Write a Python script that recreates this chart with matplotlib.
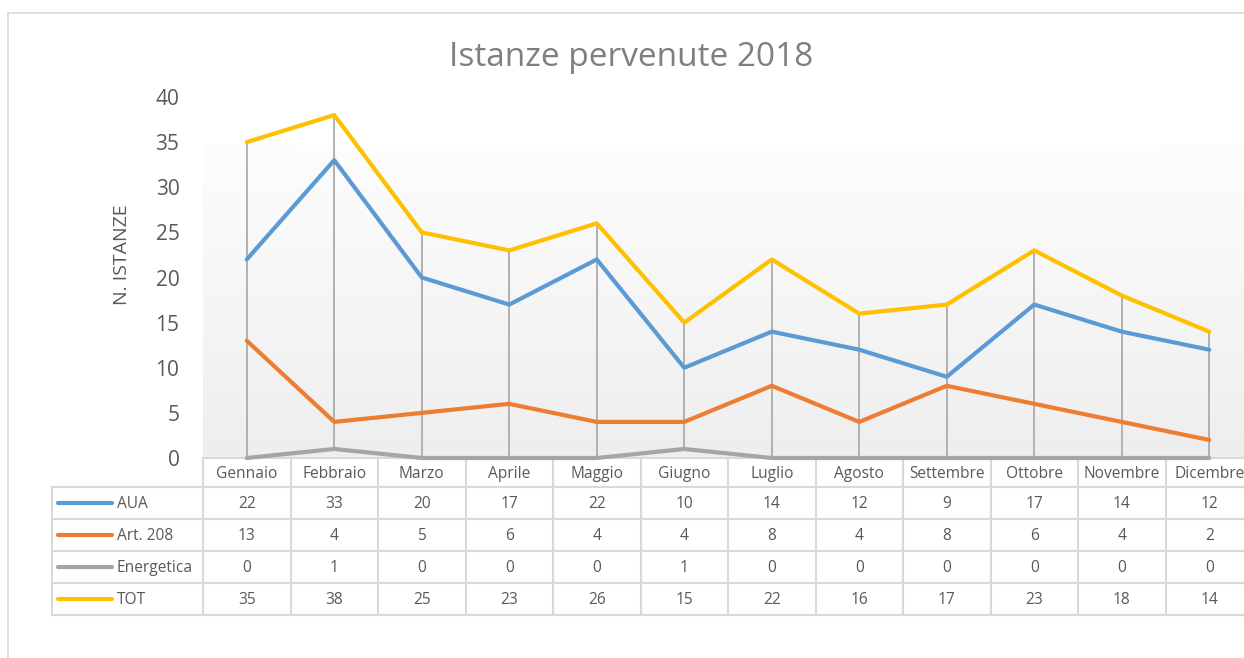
import matplotlib
matplotlib.use("Agg")
import matplotlib.pyplot as plt
import numpy as np
from matplotlib.transforms import blended_transform_factory
from matplotlib.lines import Line2D
from matplotlib.colors import LinearSegmentedColormap

months = ["Gennaio", "Febbraio", "Marzo", "Aprile", "Maggio", "Giugno",
          "Luglio", "Agosto", "Settembre", "Ottobre", "Novembre", "Dicembre"]
aua = [22, 33, 20, 17, 22, 10, 14, 12, 9, 17, 14, 12]
art208 = [13, 4, 5, 6, 4, 4, 8, 4, 8, 6, 4, 2]
energetica = [0, 1, 0, 0, 0, 1, 0, 0, 0, 0, 0, 0]
tot = [35, 38, 25, 23, 26, 15, 22, 16, 17, 23, 18, 14]
series_names = ["AUA", "Art. 208", "Energetica", "TOT"]
series_values = [aua, art208, energetica, tot]
colors = ["#5B9BD5", "#ED7D31", "#A5A5A5", "#FFC000"]
yticks = [0, 5, 10, 15, 20, 25, 30, 35, 40]

plt.rcParams['font.family'] = ['Open Sans', 'DejaVu Sans']
TXT = "#595959"
GRID = "#D9D9D9"

W, H = 1244, 658
fig = plt.figure(figsize=(W / 100, H / 100), dpi=100)


def fx(px):
    return px / W


def fy(py):
    return 1 - py / H


ax_left, col_w = 203, 87.5
ax_right = ax_left + 12 * col_w
ax_top, ax_bot = 97, 458
ax = fig.add_axes([fx(ax_left), fy(ax_bot), (ax_right - ax_left) / W, (ax_bot - ax_top) / H])
ax.set_xlim(-0.5, 11.5)
ax.set_ylim(0, 40)

# gradient background of plot area
grad_top = (ax_bot - 145) / (ax_bot - ax_top) * 40
cmap = LinearSegmentedColormap.from_list("g", ["#EEEEEE", "#FDFDFD"])
grad = np.linspace(0, 1, 256).reshape(-1, 1)
ax.imshow(grad, extent=(-0.5, 11.5, 0, grad_top), origin="lower", aspect="auto",
          cmap=cmap, zorder=0)
ax.set_xlim(-0.5, 11.5)
ax.set_ylim(0, 40)

x = np.arange(len(months))
arr = np.array(series_values)
ax.vlines(x, arr.min(axis=0), arr.max(axis=0), color="#A5A5A5", lw=1.2, zorder=2)
for vals, c in zip(series_values, colors):
    ax.plot(x, vals, color=c, lw=3, solid_capstyle="round", solid_joinstyle="round",
            zorder=3, clip_on=False)

ax.set_yticks(yticks)
ax.set_xticks([])
ax.tick_params(axis="y", length=0, pad=17, labelsize=15, labelcolor=TXT)
for s in ax.spines.values():
    s.set_visible(False)

fig.text(fx(122), fy(255), "N. ISTANZE", rotation=90, fontsize=14, color=TXT,
         ha="center", va="center")
fig.text(fx(631), fy(57), "Istanze pervenute 2018", fontsize=24, color="#7F7F7F",
         ha="center", va="center")

# data table
tr = blended_transform_factory(ax.transData, ax.transAxes)


def ay(py):
    return (ax_bot - py) / (ax_bot - ax_top)


def dx(px):
    return -0.5 + (px - ax_left) / col_w


rows = [458, 487, 519, 551, 583, 615]
legend_left = 52
lkw = dict(color=GRID, lw=1.5, transform=tr, clip_on=False, zorder=1)
ax.add_line(Line2D([dx(ax_left), dx(ax_right)], [ay(458), ay(458)], **lkw))
for r in rows[1:]:
    ax.add_line(Line2D([dx(legend_left), dx(ax_right)], [ay(r), ay(r)], **lkw))
for k in range(13):
    xb = -0.5 + k
    ax.add_line(Line2D([xb, xb], [ay(458), ay(615)], **lkw))
ax.add_line(Line2D([dx(legend_left), dx(legend_left)], [ay(487), ay(615)], **lkw))

fs = 11.2
hy = (rows[0] + rows[1]) / 2 + 1
for i, m in enumerate(months):
    ax.text(i, ay(hy), m, transform=tr, ha="center", va="center", fontsize=fs,
            color=TXT, clip_on=False)
for j, (name, vals, c) in enumerate(zip(series_names, series_values, colors)):
    ry = (rows[j + 1] + rows[j + 2]) / 2 + 1
    ax.add_line(Line2D([dx(58), dx(112)], [ay(ry - 1), ay(ry - 1)], color=c, lw=3,
                       solid_capstyle="round", transform=tr, clip_on=False))
    ax.text(dx(117), ay(ry), name, transform=tr, ha="left", va="center",
            fontsize=fs, color=TXT, clip_on=False)
    for i, v in enumerate(vals):
        ax.text(i, ay(ry), str(v), transform=tr, ha="center", va="center",
                fontsize=fs, color=TXT, clip_on=False)

# chart border
fig.add_artist(Line2D([fx(8), fx(8)], [fy(13), 0], color=GRID, lw=1.2, transform=fig.transFigure))
fig.add_artist(Line2D([fx(8), 1], [fy(13), fy(13)], color=GRID, lw=1.2, transform=fig.transFigure))

fig.savefig("out.png", dpi=100)
